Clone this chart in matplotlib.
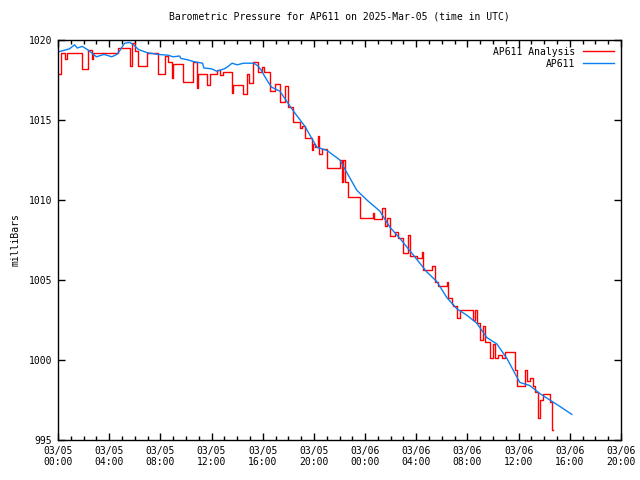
# barometric pressure for AP611, gnuplot-like look
import matplotlib
matplotlib.use('Agg')
import matplotlib.pyplot as plt
from matplotlib.ticker import MultipleLocator

# hours since 03/05 00:00 UTC and pressure (mb) - station readings
ap611_hours = [0.0, 0.9, 1.3, 1.5, 1.9, 2.3, 2.7, 3.0, 3.6, 4.2, 4.6, 4.8, 5.0, 5.2,
               5.6, 5.9, 6.1, 6.3, 7.0, 7.8, 8.6, 9.0, 9.5, 9.6, 10.2, 10.6, 11.3,
               11.4, 12.0, 12.4, 13.0, 13.3, 13.6, 14.0, 14.5, 15.3, 15.6, 15.9,
               16.1, 16.4, 16.7, 17.34, 18.36, 19.3, 20.23, 21.02, 22.03, 22.58,
               23.36, 24.14, 25.16, 25.94, 26.72, 27.73, 28.83, 29.61, 30.39,
               31.17, 31.95, 32.73, 33.52, 34.3, 35.08, 36.09, 36.88, 37.66,
               38.44, 39.22, 40.16]
ap611_mb = [1019.25, 1019.45, 1019.7, 1019.5, 1019.6, 1019.4, 1019.15, 1018.95,
            1019.1, 1018.95, 1019.1, 1019.3, 1019.55, 1019.8, 1019.85, 1019.7,
            1019.55, 1019.4, 1019.2, 1019.1, 1019.05, 1018.95, 1019.0, 1018.85,
            1018.75, 1018.65, 1018.55, 1018.25, 1018.2, 1018.05, 1018.2, 1018.35,
            1018.55, 1018.45, 1018.55, 1018.55, 1018.4, 1018.1, 1017.8, 1017.4,
            1017.05, 1016.8, 1015.6, 1014.6, 1013.3, 1013.1, 1012.5, 1011.7,
            1010.6, 1010.0, 1009.3, 1008.3, 1007.6, 1006.6, 1005.5, 1004.9,
            1003.9, 1003.2, 1002.8, 1002.3, 1001.4, 1001.0, 1000.1, 998.6,
            998.4, 997.9, 997.5, 997.1, 996.6]

# analysis values (held until next time)
analysis_hours = [0.0, 0.23, 0.55, 0.7, 1.88, 2.34, 2.66, 2.73, 4.69, 5.63, 5.78,
                  6.02, 6.25, 6.95, 7.81, 8.36, 8.59, 8.91, 8.98, 9.77, 10.55,
                  10.86, 10.94, 11.64, 11.88, 12.42, 12.66, 12.89, 13.59, 13.67,
                  14.45, 14.77, 14.9, 15.23, 15.63, 15.94, 16.1, 16.56, 16.95,
                  17.34, 17.73, 17.97, 18.36, 18.91, 19.06, 19.3, 19.84, 19.92,
                  20.08, 20.31, 20.4, 20.63, 21.02, 22.03, 22.19, 22.27, 22.42,
                  22.66, 23.59, 24.61, 24.69, 25.31, 25.55, 25.7, 25.94, 26.33,
                  26.56, 26.95, 27.34, 27.5, 28.05, 28.44, 28.5, 29.22, 29.45,
                  29.69, 30.39, 30.47, 30.78, 30.86, 31.17, 31.41, 32.42, 32.6,
                  32.73, 32.97, 33.2, 33.36, 33.75, 33.98, 34.14, 34.38, 34.69,
                  34.92, 35.7, 35.86, 36.48, 36.64, 36.88, 37.11, 37.27, 37.5,
                  37.66, 37.89, 38.44, 38.59, 38.67]
analysis_mb = [1017.9, 1019.2, 1018.8, 1019.2, 1018.2, 1019.4, 1018.8, 1019.2,
               1019.5, 1018.4, 1019.8, 1019.3, 1018.4, 1019.2, 1017.9, 1019.0,
               1018.6, 1017.6, 1018.5, 1017.4, 1018.6, 1017.0, 1017.9, 1017.2,
               1017.9, 1018.1, 1017.8, 1018.0, 1016.7, 1017.2, 1016.6, 1017.9,
               1017.3, 1018.6, 1018.0, 1018.3, 1018.0, 1016.8, 1017.25, 1016.1,
               1017.1, 1015.8, 1014.9, 1014.5, 1014.6, 1013.9, 1013.1, 1013.5,
               1013.3, 1014.0, 1012.9, 1013.2, 1012.0, 1012.5, 1011.1, 1012.5,
               1011.1, 1010.2, 1008.9, 1009.2, 1008.8, 1009.5, 1008.4, 1008.9,
               1007.75, 1008.0, 1007.6, 1006.7, 1007.8, 1006.5, 1006.4, 1006.75,
               1005.6, 1005.9, 1004.9, 1004.6, 1004.9, 1003.9, 1003.5, 1003.4,
               1002.6, 1003.1, 1002.5, 1003.1, 1002.3, 1001.25, 1002.1, 1001.1,
               1000.1, 1001.0, 1000.1, 1000.3, 1000.1, 1000.5, 999.4, 998.4,
               999.4, 998.7, 998.9, 998.4, 998.0, 996.4, 997.5, 997.9, 997.4,
               995.6, 995.6]

tick_hours = [0, 4, 8, 12, 16, 20, 24, 28, 32, 36, 40, 44]
tick_labels = ['03/05\n00:00', '03/05\n04:00', '03/05\n08:00', '03/05\n12:00',
               '03/05\n16:00', '03/05\n20:00', '03/06\n00:00', '03/06\n04:00',
               '03/06\n08:00', '03/06\n12:00', '03/06\n16:00', '03/06\n20:00']

plt.rcParams['font.family'] = 'DejaVu Sans Mono'
plt.rcParams['font.size'] = 7

fig = plt.figure(figsize=(6.4, 4.8), dpi=100)
ax = fig.add_axes([58/640, 40/480, 563/640, 400/480])

ax.plot(analysis_hours, analysis_mb, color='#ff0000', lw=1.0,
        drawstyle='steps-post', label='AP611 Analysis')
ax.plot(ap611_hours, ap611_mb, color='#0a80f0', lw=1.0, label='AP611')

ax.set_xlim(0, 44)
ax.set_ylim(995, 1020)
ax.set_xticks(tick_hours)
ax.set_xticklabels(tick_labels)
ax.xaxis.set_minor_locator(MultipleLocator(1))
ax.yaxis.set_major_locator(MultipleLocator(5))
ax.tick_params(which='both', direction='in', top=True, right=True, width=1)
ax.tick_params(which='major', length=5, pad=4)
ax.tick_params(which='minor', length=3)
for s in ax.spines.values():
    s.set_linewidth(1)

ax.set_title('Barometric Pressure for AP611 on 2025-Mar-05 (time in UTC)',
             fontsize=7, pad=15)
ax.set_ylabel('milliBars', labelpad=6)

ax.legend(loc='upper right', frameon=False, markerfirst=False,
          handlelength=3.2, borderaxespad=0.3, labelspacing=0.2)

fig.savefig('out.png', dpi=100)
